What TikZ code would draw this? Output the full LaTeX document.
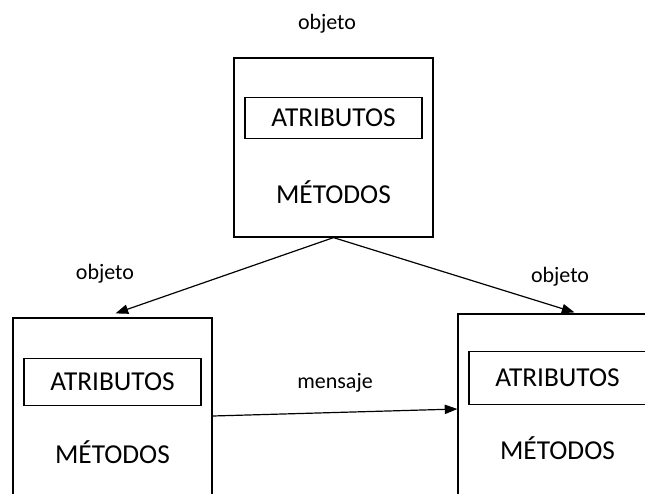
\documentclass[tikz,border=0pt]{standalone}
\usepackage{fontspec}
\setmainfont{Carlito}
\usepackage{tikz}
\usetikzlibrary{calc}
\usetikzlibrary{arrows.meta}

\begin{document}
\begin{tikzpicture}[
        x=0.75pt, y=-0.75pt,
        objbox/.style={draw, line width=0.9pt, minimum width=149.25pt, inner sep=0pt},
        attrbox/.style={draw, line width=0.9pt, minimum width=132.75pt, inner sep=0pt, font=\fontsize{20.5}{24}\selectfont},
        bigtext/.style={inner sep=0pt, font=\fontsize{20.5}{24}\selectfont},
        smalltext/.style={inner sep=0pt, font=\fontsize{16.5}{20}\selectfont},
        link/.style={line width=0.9pt, -{Triangle[length=9.5pt, width=7pt]}},
    ]
                \clip (0,0) rectangle (645,493);
                \pgfmathsetmacro\boxw{199}
                \foreach \name/\bx/\by/\bh/\ay/\ah in {top/234/58/179/58.5/41, left/13/318/190/62.5/47, right/458/314/190/62.5/53} {%
                    \begin{scope}[shift={(\bx,\by)}]
                        % outer box
                        \node [objbox, minimum height=\bh*0.75pt] (obj-\name) at (\boxw/2, \bh/2) {};
                        % attributes and methods
                        \node [attrbox, minimum height=\ah*0.75pt] (attr-\name) at (99.5, \ay+1.5) {ATRIBUTOS};
                        \node [bigtext] (met-\name) at (99.5, 134) {MÉTODOS};
                    \end{scope}
                }
                % labels
                \node [smalltext] (lbl-top) at (327, 24) {objeto};
                \node [smalltext] (lbl-left) at (105, 274) {objeto};
                \node [smalltext] (lbl-right) at (560, 277) {objeto};
                % arrows
                \draw [link] (obj-top.south) -- ($(obj-left.north)+(3,-4)$);
                \draw [link] (obj-top.south) -- ($(obj-right.north)+(17,-1)$);
                \draw [link] ($(obj-left.east |- 0,416)$) -- node [smalltext, above=15pt] (lbl-msg) {mensaje} ($(obj-right.west |- 0,409)$);
\end{tikzpicture}
\end{document}
